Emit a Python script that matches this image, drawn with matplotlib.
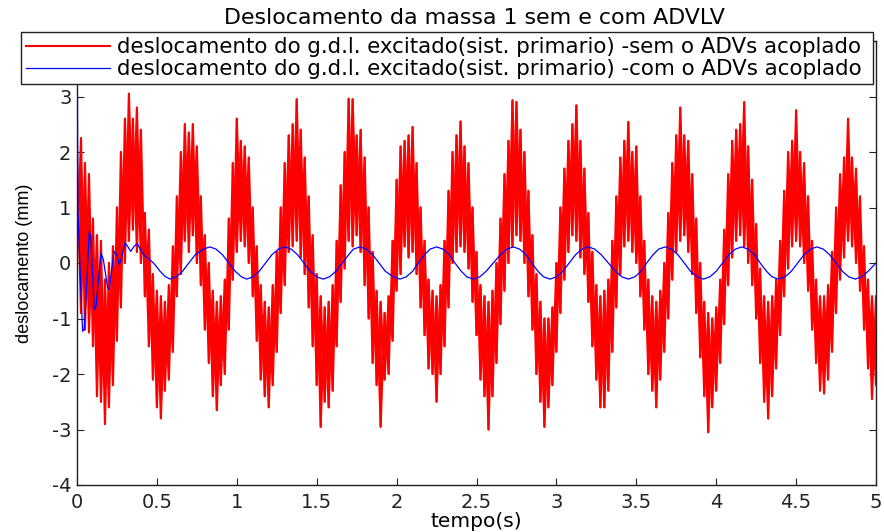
import numpy as np
import matplotlib
matplotlib.use('Agg')
import matplotlib.pyplot as plt

# ── data ─────────────────────────────────────────────────────────────────────
# red: without absorber, dense oscillation -> per-bin (0.025 s) upper / lower extents
red_t = np.arange(201) * 0.025
red_hi = [2.0, 2.25, 1.8, 1.6, 0.8, 0.5, 0.4, -0.3, 0.0, 0.3,
          1.0, 2.0, 2.6, 3.05, 2.6, 2.8, 2.4, 0.9, 0.6, -0.2,
          -0.5, -0.6, -0.7, -0.4, 0.3, 1.2, 2.0, 2.5, 2.35, 2.5,
          2.1, 1.2, 0.5, 0.0, -0.5, -0.7, -0.6, -0.3, 0.8, 1.8,
          2.6, 2.2, 2.1, 1.9, 1.0, 0.3, -0.4, -0.7, -0.8, -0.4,
          0.2, 1.0, 1.8, 2.3, 2.5, 2.95, 2.4, 1.9, 1.2, 0.5,
          -0.2, -0.6, -0.8, -0.7, -0.4, 0.4, 1.4, 2.0, 2.96, 2.95,
          2.3, 2.4, 1.9, 1.0, 0.2, -0.5, -0.7, -0.9, -0.6, 0.4,
          1.5, 2.1, 2.2, 2.3, 2.45, 1.8, 1.0, 0.4, -0.3, -0.5,
          -0.6, -0.4, 0.4, 1.3, 2.0, 2.3, 2.55, 2.1, 1.8, 1.0,
          0.2, -0.4, -0.6, -0.7, -0.5, 0.0, 0.8, 1.6, 2.2, 2.93,
          2.9, 2.4, 2.0, 1.3, 0.5, -0.2, -0.7, -1.0, -1.0, -0.8,
          0.0, 1.0, 1.7, 2.2, 2.5, 2.84, 2.2, 1.7, 0.9, 0.2,
          -0.4, -0.6, -0.5, -0.3, 0.4, 1.2, 1.9, 2.2, 2.54, 2.0,
          2.1, 1.2, 0.4, -0.3, -0.6, -0.7, -0.5, 0.0, 0.9, 1.8,
          2.3, 2.8, 2.3, 2.2, 1.6, 0.8, 0.0, -0.7, -0.9, -1.0,
          -0.8, -0.3, 0.6, 1.6, 2.2, 2.4, 2.5, 2.9, 2.1, 1.5,
          0.7, -0.1, -0.6, -0.7, -0.6, -0.3, 0.4, 1.3, 2.0, 2.2,
          2.75, 2.0, 1.8, 1.2, 0.4, -0.3, -0.6, -0.6, -0.4, 0.2,
          1.0, 1.6, 1.9, 2.6, 1.9, 1.7, 1.2, 0.3, -0.3, -0.6,
          -0.6]
red_lo = [0.0, -0.9, -1.2, -1.25, -1.5, -2.4, -2.5, -2.9, -2.6, -2.2,
          -1.4, -0.8, 0.0, 0.4, 0.6, 0.2, 0.0, -0.6, -1.5, -2.1,
          -2.6, -2.8, -2.3, -2.1, -1.6, -0.6, -0.2, 0.4, 0.2, 0.5,
          0.0, -0.4, -1.2, -1.8, -2.4, -2.65, -2.2, -2.0, -1.2, -0.3,
          0.2, 0.4, 0.3, 0.0, -0.6, -1.4, -2.1, -2.4, -2.6, -2.2,
          -1.6, -0.9, -0.4, 0.2, 0.3, 0.4, 0.1, -0.2, -0.8, -1.5,
          -2.2, -2.95, -2.5, -2.6, -2.3, -1.5, -0.7, -0.1, 0.4, 0.3,
          0.5, 0.2, -0.4, -1.0, -1.8, -2.2, -2.95, -2.1, -2.0, -1.4,
          -0.5, -0.2, 0.3, 0.1, 0.2, -0.2, -0.8, -1.3, -1.9, -2.0,
          -2.5, -2.0, -1.5, -0.8, 0.0, 0.2, 0.3, 0.2, -0.1, -0.7,
          -1.3, -2.1, -2.4, -3.0, -2.4, -1.8, -1.1, -0.5, 0.0, 0.3,
          0.5, 0.4, 0.0, -0.6, -1.2, -2.0, -2.5, -2.95, -2.6, -2.2,
          -1.6, -0.9, -0.3, 0.2, 0.5, 0.4, 0.1, -0.2, -0.7, -1.5,
          -2.1, -2.6, -2.6, -2.3, -1.6, -0.8, -0.2, 0.3, 0.4, 0.2,
          0.0, -0.6, -1.2, -2.0, -2.3, -2.6, -2.1, -1.6, -1.0, -0.3,
          0.2, 0.4, 0.5, 0.2, -0.2, -0.9, -1.7, -2.4, -3.05, -2.6,
          -2.3, -1.8, -1.1, -0.4, 0.1, 0.4, 0.5, 0.3, 0.0, -0.4,
          -1.0, -1.8, -2.5, -2.8, -2.4, -1.9, -1.3, -0.6, -0.1, 0.3,
          0.4, 0.3, 0.0, -0.5, -1.2, -1.8, -2.3, -2.35, -2.1, -1.6,
          -0.9, -0.3, 0.1, 0.4, 0.3, 0.0, -0.5, -1.2, -1.9, -2.45,
          -2.2]

# blue: with absorber
blue_t = [0.003, 0.005, 0.023, 0.035, 0.044, 0.05, 0.06, 0.077, 0.086, 0.108,
          0.119, 0.15, 0.165, 0.192, 0.202, 0.217, 0.232, 0.248, 0.265, 0.28,
          0.30, 0.317, 0.336, 0.357, 0.377, 0.398, 0.425, 0.457, 0.488, 0.52,
          0.55, 0.582,
          0.62, 0.66, 0.70, 0.74, 0.79, 0.832, 0.87, 0.91, 0.95, 0.99, 1.03,
          1.062, 1.10, 1.14, 1.18, 1.22, 1.26, 1.302, 1.34, 1.38, 1.42, 1.46,
          1.50, 1.541, 1.58, 1.62, 1.66, 1.70, 1.73, 1.771, 1.81, 1.85, 1.89,
          1.93, 1.98, 2.021, 2.06, 2.10, 2.135, 2.175, 2.21, 2.25, 2.29, 2.33,
          2.365, 2.405, 2.44, 2.48, 2.52, 2.56, 2.605, 2.65, 2.69, 2.73, 2.77,
          2.81, 2.845, 2.885, 2.92, 2.96, 3.00, 3.04, 3.08, 3.12, 3.16, 3.20,
          3.24, 3.28, 3.325, 3.37, 3.41, 3.45, 3.49, 3.53, 3.565, 3.605, 3.64,
          3.68, 3.72, 3.76, 3.80, 3.84, 3.88, 3.92, 3.96, 4.00, 4.04, 4.08,
          4.12, 4.16, 4.20, 4.24, 4.275, 4.315, 4.35, 4.39, 4.43, 4.47, 4.51,
          4.55, 4.59, 4.63, 4.67, 4.71, 4.75, 4.79, 4.83, 4.87, 4.91, 4.95,
          5.0]
blue_y = [3.0, 1.0, -0.42, -1.23, -1.2, -1.0, -0.4, 0.57, 0.48, -0.84,
          -0.78, 0.18, 0.06, -0.45, -0.47, -0.12, 0.21, 0.15, -0.03, 0.12,
          0.36, 0.3, 0.21, 0.3, 0.35, 0.24, 0.12, 0.06, -0.03, -0.15,
          -0.24, -0.29,
          -0.25, -0.15, 0.0, 0.15, 0.25, 0.29, 0.25, 0.15, 0.0, -0.15, -0.25,
          -0.29, -0.25, -0.15, 0.0, 0.15, 0.25, 0.29, 0.25, 0.15, 0.0, -0.15,
          -0.25, -0.29, -0.25, -0.15, 0.0, 0.15, 0.25, 0.29, 0.25, 0.15, 0.0,
          -0.15, -0.25, -0.29, -0.25, -0.15, 0.0, 0.15, 0.25, 0.29, 0.25, 0.15,
          0.0, -0.15, -0.25, -0.29, -0.25, -0.15, 0.0, 0.15, 0.25, 0.29, 0.25,
          0.15, 0.0, -0.15, -0.25, -0.29, -0.25, -0.15, 0.0, 0.15, 0.25, 0.29,
          0.25, 0.15, 0.0, -0.15, -0.25, -0.29, -0.25, -0.15, 0.0, 0.15, 0.25,
          0.29, 0.25, 0.15, 0.0, -0.15, -0.25, -0.29, -0.25, -0.15, 0.0, 0.15,
          0.25, 0.29, 0.25, 0.15, 0.0, -0.15, -0.25, -0.29, -0.25, -0.15, 0.0,
          0.15, 0.25, 0.29, 0.25, 0.15, 0.0, -0.15, -0.25, -0.29, -0.25, -0.15,
          0.0]

x_ticks = [0, 0.5, 1, 1.5, 2, 2.5, 3, 3.5, 4, 4.5, 5]
x_labels = ['0', '0.5', '1', '1.5', '2', '2.5', '3', '3.5', '4', '4.5', '5']
y_ticks = [-4, -3, -2, -1, 0, 1, 2, 3, 4]

title = 'Deslocamento da massa 1 sem e com ADVLV'
lbl_sem = 'deslocamento do g.d.l. excitado(sist. primario) -sem o ADVs acoplado'
lbl_com = 'deslocamento do g.d.l. excitado(sist. primario) -com o ADVs acoplado'

# ── figure ───────────────────────────────────────────────────────────────────
plt.rcParams['font.family'] = ['DejaVu Sans']
plt.rcParams['axes.unicode_minus'] = False

W, H = 884, 532
fig = plt.figure(figsize=(W / 100, H / 100), dpi=100)
ax = fig.add_axes([77 / W, 1 - 485 / H, (876 - 77) / W, (485 - 41) / H])

# red band drawn as two interleaved zig-zags (lo->hi and hi->lo) over the bins
zx = np.repeat(red_t, 2)
za = np.empty(2 * len(red_hi))
za[0::2] = red_lo
za[1::2] = red_hi
zb = np.empty(2 * len(red_hi))
zb[0::2] = red_hi
zb[1::2] = red_lo
ax.plot(zx, za, color='#ff0000', lw=1.5, label=lbl_sem)
ax.plot(zx, zb, color='#ff0000', lw=1.5)
ax.plot(blue_t, blue_y, color='#0000ff', lw=0.9, label=lbl_com, zorder=3)

ax.set_xlim(0, 5)
ax.set_ylim(-4, 4)
ax.set_xticks(x_ticks)
ax.set_xticklabels(x_labels)
ax.set_yticks(y_ticks)
ax.tick_params(direction='in', length=5, width=0.8, top=True, right=True,
               labelsize=14, colors='#222222')
ax.tick_params(axis='x', pad=6)
ax.tick_params(axis='y', pad=4)
for s in ax.spines.values():
    s.set_linewidth(1.0)
    s.set_color('#222222')

ax.set_xlabel('tempo(s)', fontsize=14.5, labelpad=0)
ax.set_ylabel('deslocamento (mm)', fontsize=13, family='Liberation Sans')
ax.yaxis.set_label_coords(-44 / 799, 0.5)

fig.text(474 / W, 1 - 18 / H, title, ha='center', va='center', fontsize=15.9)

leg = ax.legend(loc='upper left', bbox_to_anchor=(21 / W, 1 - 86 / H, 852 / W, 54 / H),
                bbox_transform=fig.transFigure, mode='expand', fontsize=15.4,
                frameon=True, fancybox=False, shadow=False, borderaxespad=0,
                handlelength=3.9, handletextpad=0.35, borderpad=0.25,
                labelspacing=0.08)
leg.get_frame().set_edgecolor('#222222')
leg.get_frame().set_linewidth(1.0)
leg.get_frame().set_alpha(1)

fig.savefig('out.png', dpi=100)
